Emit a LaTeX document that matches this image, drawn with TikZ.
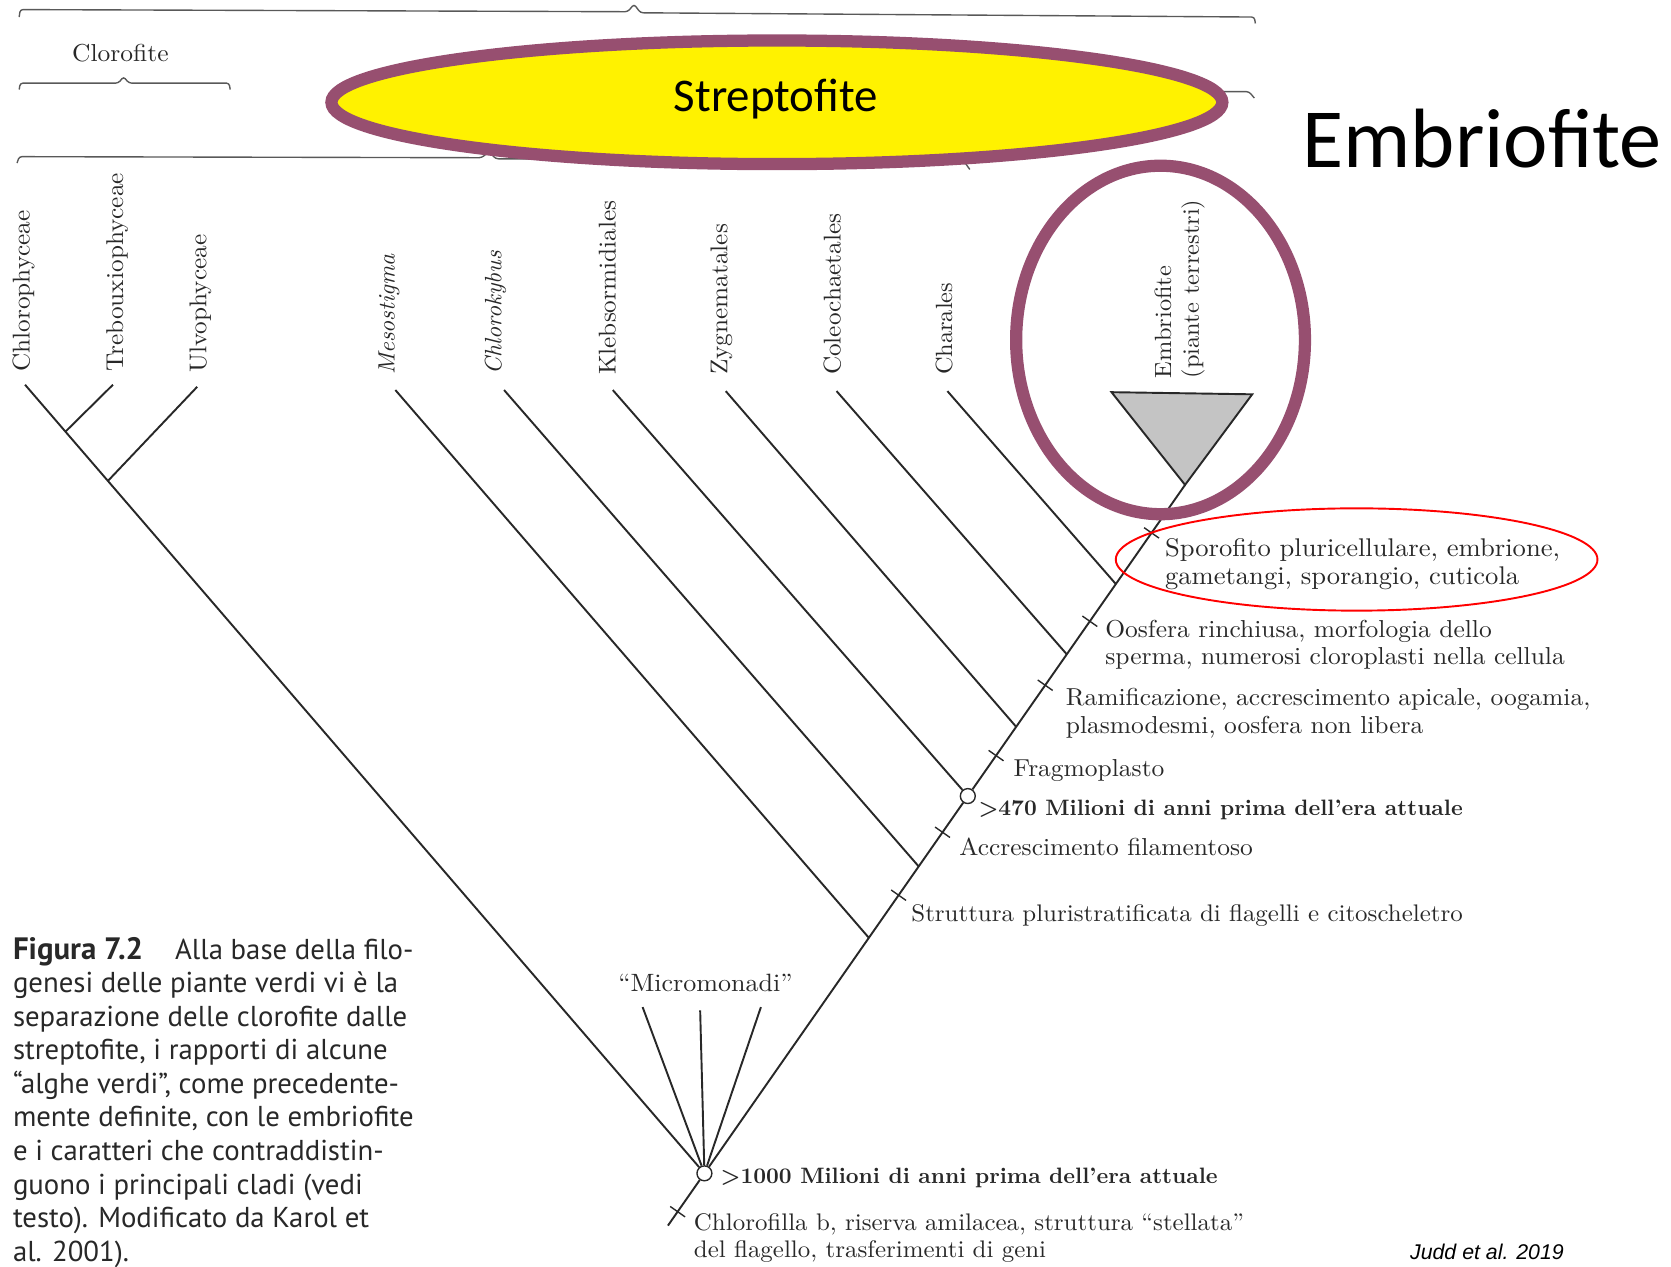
\documentclass[tikz,border=0pt]{standalone}
\usepackage{fontspec}
\usetikzlibrary{calc}
\newfontfamily\carl{Carlito}
\newfontfamily\capt{PT Sans}
\newfontfamily\arialf{Liberation Sans}
\newfontfamily\pal[FakeStretch=1.04, ItalicFont=lmroman10-italic.otf, BoldFont=lmroman10-bold.otf]{lmroman10-regular.otf}
\newfontfamily\palplain[ItalicFont=lmroman10-italic.otf, BoldFont=lmroman10-bold.otf]{lmroman10-regular.otf}
\definecolor{plum}{RGB}{151,79,112}
\definecolor{trigray}{RGB}{196,196,196}
\definecolor{ink}{RGB}{40,40,40}
\begin{document}
\begin{tikzpicture}[x=1pt,y=-1pt,
  branch/.style={line width=1.8pt, ink},
  bracestyle/.style={line width=1.3pt, black!65, rounded corners=2.5pt},
  tickmark/.style={line width=1.3pt, ink},
  lab/.style={font=\pal\fontsize{23}{26}\selectfont, text=ink, anchor=base west, align=left, inner sep=0pt},
  blab/.style={lab, font=\palplain\fontsize{20.9}{26}\selectfont\bfseries},
  taxon/.style={font=\pal\fontsize{22.8}{26}\selectfont, text=ink, rotate=90, anchor=west, inner sep=0pt, align=left},
  itaxon/.style={taxon, font=\palplain\fontsize{22.2}{26}\selectfont\itshape},
  dot/.style={circle, draw=ink, line width=1.3pt, fill=white, minimum size=14pt, inner sep=0pt},
  hilite/.style={draw=plum, line width=11.5pt}
]
\useasboundingbox (0,0) rectangle (1568,1188);

% ---------- braces ----------
\draw[bracestyle] (18,16) -- (19,9) -- (589,11) -- (595,4) -- (601,12) -- (1177,16) -- (1178,22);
\draw[bracestyle] (18,84) -- (19,78) -- (111,78) -- (116,72) -- (121,78) -- (215,78) -- (216,84);
\draw[bracestyle] (16,153) -- (18,147) -- (452,148) -- (459,142) -- (465,149) -- (905,152) -- (910,159);
\draw[bracestyle] (900,86) -- (1172,86) -- (1177,92);
\node[font=\pal\fontsize{23}{26}\selectfont, text=ink] (clorofite) at (113,50) {Clorofite};

% ---------- tree coordinates ----------
\coordinate (R) at (661,1101);
\coordinate (A) at (1112,455);
\coordinate (tChlo) at (23.5,361);
\coordinate (jTreb) at ($(R)!0.9405!(tChlo)$);
\coordinate (jUlvo) at ($(R)!0.878!(tChlo)$);
\coordinate (tTreb) at (106,361);
\coordinate (tUlvo) at (185,363);
\coordinate (jMeso) at ($(R)!0.3421!(A)$);
\coordinate (jChlk) at ($(R)!0.4458!(A)$);
\coordinate (K) at ($(R)!0.548!(A)$);
\coordinate (jZyg) at ($(R)!0.6486!(A)$);
\coordinate (jCol) at ($(R)!0.7539!(A)$);
\coordinate (jCha) at ($(R)!0.856!(A)$);
\coordinate (tMeso) at (371,366);
\coordinate (tChlk) at (473,366);
\coordinate (tKleb) at (575,366);
\coordinate (tZyg) at (681,367);
\coordinate (tCol) at (785,367);
\coordinate (tCha) at (889,367);
\coordinate (mm1) at (603,945);
\coordinate (mm2) at (657,948);
\coordinate (mm3) at (714,945);
\coordinate (base) at ($(R)!-0.0759!(A)$);
% tick positions
\coordinate (kRoot) at ($(R)!-0.0557!(A)$);
\coordinate (kStr) at ($(R)!0.404!(A)$);
\coordinate (kAcc) at ($(R)!0.4954!(A)$);
\coordinate (kFra) at ($(R)!0.6068!(A)$);
\coordinate (kRam) at ($(R)!0.709!(A)$);
\coordinate (kOos) at ($(R)!0.8019!(A)$);
\coordinate (kSpo) at ($(R)!0.9303!(A)$);

% ---------- triangle (embriofite) ----------
\coordinate (triL) at (1043,368);
\coordinate (triR) at (1175,370);
\draw[line width=1.8pt, ink, fill=trigray, line join=miter] (triL) -- (triR) -- (A) -- cycle;

% ---------- nodes (circles) ----------
\node[dot] (root) at (R) {};
\node[dot] (k470) at (K) {};

% ---------- branches ----------
\draw[branch] (root) -- (tChlo);
\draw[branch] (jTreb) -- (tTreb);
\draw[branch] (jUlvo) -- (tUlvo);
\draw[branch] (root) -- (k470);
\draw[branch] (k470) -- (A);
\draw[branch] (root) -- (base);
\draw[branch] (jMeso) -- (tMeso);
\draw[branch] (jChlk) -- (tChlk);
\draw[branch] (k470) -- (tKleb);
\draw[branch] (jZyg) -- (tZyg);
\draw[branch] (jCol) -- (tCol);
\draw[branch] (jCha) -- (tCha);
\draw[branch] (root) -- (mm1);
\draw[branch] (root) -- (mm2);
\draw[branch] (root) -- (mm3);

% ---------- ticks ----------
\foreach \k in {kRoot,kStr,kAcc,kFra,kRam,kOos,kSpo}{
  \draw[tickmark] ($(\k)+(-7,-4.9)$) -- ($(\k)+(7,4.9)$);
}

% ---------- taxon labels ----------
\node[taxon] (lChlo) at (22,349) {Chlorophyceae};
\node[taxon] (lTreb) at (110,349) {Trebouxiophyceae};
\node[taxon] (lUlvo) at (188,350) {Ulvophyceae};
\node[itaxon] (lMeso) at (365,352) {Mesostigma};
\node[itaxon] (lChlk) at (465,352) {Chlorokybus};
\node[taxon] (lKleb) at (570,352) {Klebsormidiales};
\node[taxon] (lZyg) at (677,352) {Zygnematales};
\node[taxon] (lCol) at (781,352) {Coleochaetales};
\node[taxon, font=\pal\fontsize{22}{26}\selectfont] (lCha) at (886,352) {Charales};
\node[taxon, font=\pal\fontsize{22}{26}\selectfont] (lEmb) at (1107,355) {Embriofite\\(piante terrestri)};

% ---------- character labels ----------
\node[lab, font=\pal\fontsize{24}{26}\selectfont] (cSpo) at (1093,548) {Sporofito pluricellulare, embrione,\\gametangi, sporangio, cuticola};
\node[lab] (cOos) at (1037,624) {Oosfera rinchiusa, morfologia dello\\sperma, numerosi cloroplasti nella cellula};
\node[lab] (cRam) at (1000,688) {Ramificazione, accrescimento apicale, oogamia,\\plasmodesmi, oosfera non libera};
\node[lab] (cFra) at (951,729) {Fragmoplasto};
\node[blab] (c470) at (918,765) {>470 Milioni di anni prima dell’era attuale};
\node[lab] (cAcc) at (900,803) {Accrescimento filamentoso};
\node[lab, font=\pal\fontsize{22.5}{26}\selectfont] (cStr) at (855,865) {Struttura pluristratificata di flagelli e citoscheletro};
\node[blab] (c1000) at (676,1111) {>1000 Milioni di anni prima dell’era attuale};
\node[lab, font=\pal\fontsize{22.5}{25.5}\selectfont] (cChl) at (651,1180) {Chlorofilla b, riserva amilacea, struttura “stellata”\\del flagello, trasferimenti di geni};
\node[font=\pal\fontsize{23.5}{26}\selectfont, text=ink] (micro) at (662,922) {“Micromonadi”};

% ---------- caption ----------
\node[font=\capt\fontsize{27}{31.5}\selectfont, text=ink, anchor=base west, align=left, inner sep=0pt] (caption) at (12,1183.5)
{{\fontsize{29}{31.5}\selectfont\bfseries Figura 7.2}\hspace*{30pt}Alla base della filo-\\
genesi delle piante verdi vi è la\\
separazione delle clorofite dalle\\
streptofite, i rapporti di alcune\\
“alghe verdi”, come precedente-\\
mente definite, con le embriofite\\
e i caratteri che contraddistin-\\
guono i principali cladi (vedi\\
testo). Modificato da Karol et\\
al. 2001).};

\node[font=\arialf\itshape\fontsize{20}{24}\selectfont, anchor=base west, inner sep=0pt] (judd) at (1323,1182) {Judd et al. 2019};

% ---------- highlights ----------
\draw[hilite, fill=yellow] (729,96) ellipse [x radius=418, y radius=58];
\node[font=\carl\fontsize{44}{50}\selectfont] (strepto) at (728,93) {Streptofite};
\draw[hilite] (1089,319) ellipse [x radius=135.5, y radius=163.5];
\node[font=\carl\fontsize{79}{86}\selectfont, anchor=base west, inner sep=0pt] (embrio) at (1222,157) {Embriofite};
\draw[red, line width=1.8pt] (1273,525) ellipse [x radius=226, y radius=48];
\end{tikzpicture}
\end{document}
